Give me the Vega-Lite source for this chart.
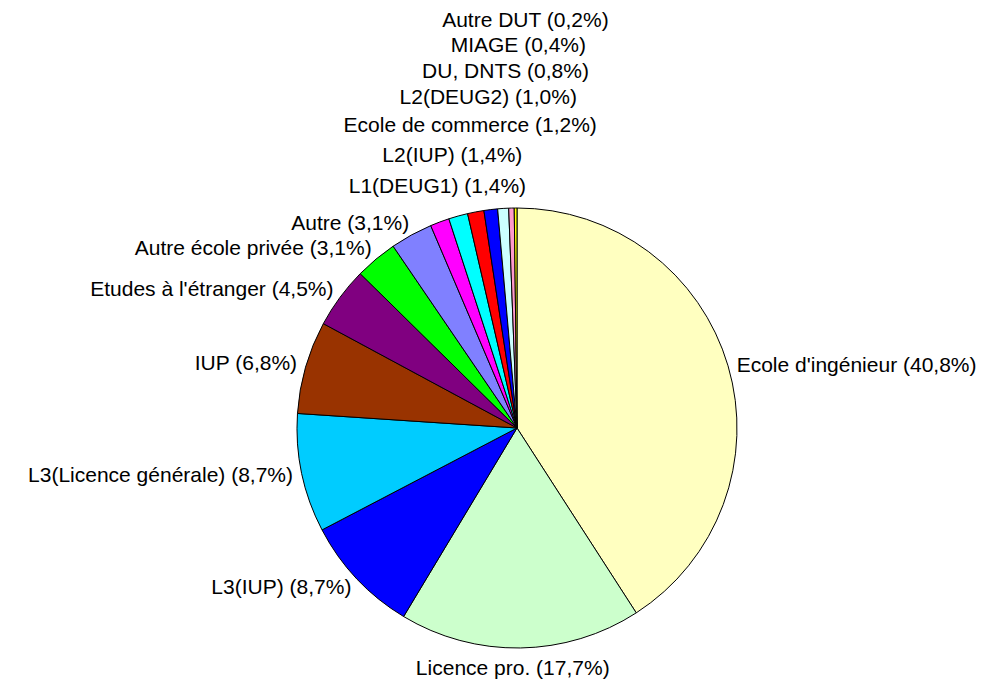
{
  "$schema": "https://vega.github.io/schema/vega-lite/v6.json",
  "width": 942,
  "height": 508,
  "autosize": "none",
  "padding": {"left": 46, "top": 174, "right": 0, "bottom": 0},
  "background": "white",
  "config": {"view": {"stroke": null}, "text": {"font": "Liberation Sans", "fontSize": 21, "color": "black"}},
  "data": {"values": [
    {"order": 1, "label": "Ecole d'ingénieur (40,8%)", "pct": 40.8},
    {"order": 2, "label": "Licence pro. (17,7%)", "pct": 17.7},
    {"order": 3, "label": "L3(IUP) (8,7%)", "pct": 8.7},
    {"order": 4, "label": "L3(Licence générale) (8,7%)", "pct": 8.7},
    {"order": 5, "label": "IUP (6,8%)", "pct": 6.8},
    {"order": 6, "label": "Etudes à l'étranger (4,5%)", "pct": 4.5},
    {"order": 7, "label": "Autre école privée (3,1%)", "pct": 3.1},
    {"order": 8, "label": "Autre (3,1%)", "pct": 3.1},
    {"order": 9, "label": "L1(DEUG1) (1,4%)", "pct": 1.4},
    {"order": 10, "label": "L2(IUP) (1,4%)", "pct": 1.4},
    {"order": 11, "label": "Ecole de commerce (1,2%)", "pct": 1.2},
    {"order": 12, "label": "L2(DEUG2) (1,0%)", "pct": 1.0},
    {"order": 13, "label": "DU, DNTS (0,8%)", "pct": 0.8},
    {"order": 14, "label": "MIAGE (0,4%)", "pct": 0.4},
    {"order": 15, "label": "Autre DUT (0,2%)", "pct": 0.2}
  ]},
  "transform": [
    {"stack": "pct", "sort": [{"field": "order", "order": "ascending"}], "groupby": [], "as": ["t0", "t1"]},
    {"calculate": "(datum.t0 + datum.t1) / 2", "as": "mid"}
  ],
  "layer": [
    {
      "mark": {"type": "arc", "outerRadius": 220, "stroke": "black", "strokeWidth": 1},
      "encoding": {
        "theta": {"field": "t0", "type": "quantitative", "stack": null, "scale": {"domain": [0, 99.8]}},
        "theta2": {"field": "t1"},
        "color": {
          "field": "label", "type": "nominal", "legend": null,
          "scale": {
            "domain": ["Ecole d'ingénieur (40,8%)", "Licence pro. (17,7%)", "L3(IUP) (8,7%)", "L3(Licence générale) (8,7%)", "IUP (6,8%)", "Etudes à l'étranger (4,5%)", "Autre école privée (3,1%)", "Autre (3,1%)", "L1(DEUG1) (1,4%)", "L2(IUP) (1,4%)", "Ecole de commerce (1,2%)", "L2(DEUG2) (1,0%)", "DU, DNTS (0,8%)", "MIAGE (0,4%)", "Autre DUT (0,2%)"],
            "range": ["#FFFFC0", "#CCFFCC", "#0000FF", "#00CCFF", "#993300", "#800080", "#00FF00", "#8080FF", "#FF00FF", "#00FFFF", "#FF0000", "#0000FF", "#CCFFFF", "#FF99CC", "#FFFF00"]
          }
        }
      }
    },
    {
      "transform": [{"filter": "datum.order == 1"}],
      "mark": {"type": "text", "align": "left", "baseline": "middle", "dy": 3},
      "encoding": {
        "theta": {"field": "mid", "type": "quantitative", "stack": null},
        "radius": {"value": 229},
        "text": {"field": "label"}
      }
    },
    {
      "transform": [{"filter": "datum.order == 2"}],
      "mark": {"type": "text", "align": "center", "baseline": "middle", "dx": -8, "dy": 2},
      "encoding": {
        "theta": {"field": "mid", "type": "quantitative", "stack": null},
        "radius": {"value": 239},
        "text": {"field": "label"}
      }
    },
    {
      "transform": [{"filter": "datum.order >= 3 && datum.order <= 8"}],
      "mark": {"type": "text", "align": "right", "baseline": "middle", "dx": 4},
      "encoding": {
        "theta": {"field": "mid", "type": "quantitative", "stack": null},
        "radius": {"value": 233},
        "text": {"field": "label"}
      }
    },
    {
      "transform": [{"filter": "datum.order >= 9"}],
      "mark": {"type": "text", "align": "center", "baseline": "middle", "dx": 11, "dy": 1},
      "encoding": {
        "theta": {"field": "mid", "type": "quantitative", "stack": null},
        "radius": {"field": "order", "type": "quantitative", "scale": {"type": "linear", "domain": [9, 15], "range": [258, 408], "zero": false}},
        "text": {"field": "label"}
      }
    }
  ]
}
